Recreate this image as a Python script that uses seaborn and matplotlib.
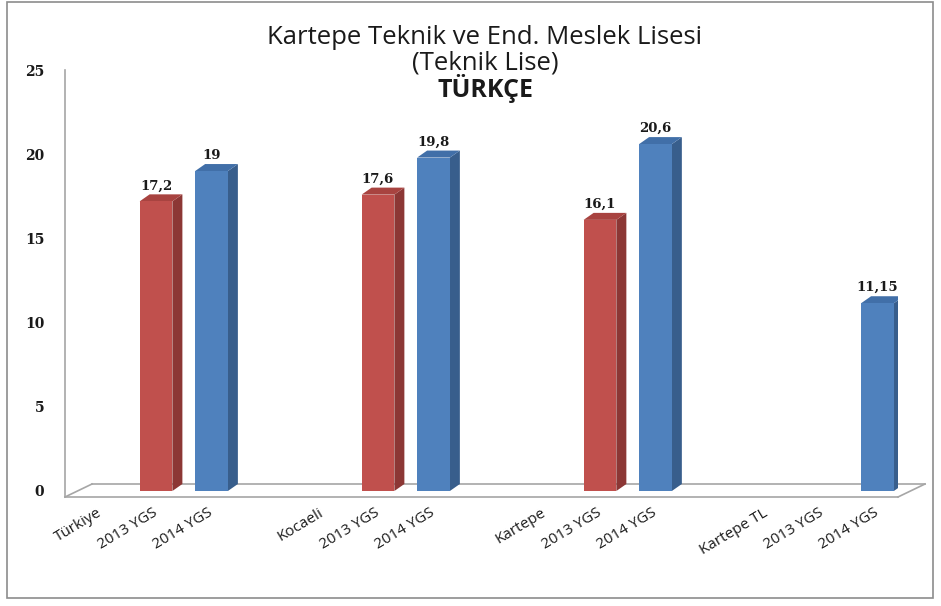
import numpy as np
import pandas as pd
import matplotlib
matplotlib.use("Agg")
import matplotlib.pyplot as plt
import seaborn as sns
from matplotlib.patches import Polygon, Rectangle
from matplotlib.lines import Line2D

# chart data
groups = ["Türkiye", "Kocaeli", "Kartepe", "Kartepe TL"]
years = ["2013 YGS", "2014 YGS"]
scores_2013 = [17.2, 17.6, 16.1, np.nan]
scores_2014 = [19.0, 19.8, 20.6, 11.15]

title_lines = ["Kartepe Teknik ve End. Meslek Lisesi", "(Teknik Lise)", "TÜRKÇE"]
y_ticks = [0, 5, 10, 15, 20, 25]

front_colors = {"2013 YGS": "#C0504D", "2014 YGS": "#4F81BD"}
side_colors = {"2013 YGS": "#8C3735", "2014 YGS": "#385E8C"}
top_colors = {"2013 YGS": "#A84340", "2014 YGS": "#416FA8"}

# category order: group name, 2013, 2014, then an empty gap slot
order = []
tick_labels = []
for i, g in enumerate(groups):
    order += [g, g + "|" + years[0], g + "|" + years[1]]
    tick_labels += [g, years[0], years[1]]
    if i < len(groups) - 1:
        order.append("gap%d" % i)
        tick_labels.append("")

rows = []
for g, v13, v14 in zip(groups, scores_2013, scores_2014):
    rows.append({"slot": g + "|" + years[0], "year": years[0], "score": v13})
    rows.append({"slot": g + "|" + years[1], "year": years[1], "score": v14})
df = pd.DataFrame(rows).dropna()

W, H = 941, 606
fig = plt.figure(figsize=(W / 100, H / 100), dpi=100)
fig.patch.set_facecolor("white")


def px(x, y):
    return x / W, 1 - y / H


ax_left, ax_right, ax_top, ax_bottom = 65, 898, 70, 491
ax = fig.add_axes([ax_left / W, 1 - ax_bottom / H, (ax_right - ax_left) / W, (ax_bottom - ax_top) / H])
ax.set_facecolor("none")

sns.barplot(data=df, x="slot", y="score", hue="year", order=order,
            palette=front_colors, dodge=False, width=0.59, saturation=1,
            legend=False, ax=ax, zorder=3, edgecolor="none")

ax.set_ylim(0, 25)
ax.set_xlim(-0.64, 14.37)

# fake 3d depth on each bar
depth_x = 10 / ((ax_right - ax_left) / (14.37 + 0.64))
depth_y = 7 / ((ax_bottom - ax_top) / 25)
for cont, yr in zip(ax.containers, years):
    for bar in cont:
        h = bar.get_height()
        if not np.isfinite(h) or h == 0:
            continue
        x0 = bar.get_x()
        x1 = x0 + bar.get_width()
        side = Polygon([(x1, 0), (x1 + depth_x, depth_y), (x1 + depth_x, h + depth_y), (x1, h)],
                       closed=True, facecolor=side_colors[yr], edgecolor="none", zorder=2.9)
        top = Polygon([(x0, h), (x1, h), (x1 + depth_x, h + depth_y), (x0 + depth_x, h + depth_y)],
                      closed=True, facecolor=top_colors[yr], edgecolor="none", zorder=2.9)
        ax.add_patch(side)
        ax.add_patch(top)
    ax.bar_label(cont, fmt=lambda v: ("%g" % v).replace(".", ","), padding=6.5,
                 fontsize=9.5, fontweight="bold", family="DejaVu Serif", color="#1a1a1a")

for s in ax.spines.values():
    s.set_visible(False)
ax.set_xlabel("")
ax.set_ylabel("")
ax.set_yticks(y_ticks)
ax.set_yticklabels([str(t) for t in y_ticks], fontsize=10, fontweight="bold",
                   family="DejaVu Serif", color="#1a1a1a")
ax.tick_params(axis="y", length=0, pad=15)
ax.set_xticks(range(len(order)))
ax.set_xticklabels(tick_labels, rotation=31, ha="right", rotation_mode="anchor",
                   fontsize=11, family="Open Sans", color="#1a1a1a")
ax.tick_params(axis="x", length=0, pad=15)
for lab in ax.get_xticklabels():
    lab.set_va("center")

# floor and axis wall lines
gray = "#A6A6A6"
floor = [[(65, 497), (898, 497)], [(92, 484), (925, 484)], [(65, 497), (92, 484)],
         [(898, 497), (925, 484)], [(65, 70), (65, 497)]]
for (a, b) in floor:
    p0, p1 = px(*a), px(*b)
    ax.add_line(Line2D([p0[0], p1[0]], [p0[1], p1[1]], color=gray, lw=1.2,
                       transform=fig.transFigure, clip_on=False, zorder=1))

# outer border
fig.add_artist(Rectangle(px(7, 598), 926 / W, 596 / H, transform=fig.transFigure,
                         fill=False, edgecolor="#8c8c8c", lw=1.2))

# titles
fig.text(*px(485, 37), title_lines[0], ha="center", va="center", fontsize=18.5, family="Open Sans", color="#1a1a1a")
fig.text(*px(485, 63), title_lines[1], ha="center", va="center", fontsize=18.5, family="Open Sans", color="#1a1a1a")
fig.text(*px(485, 88), title_lines[2], ha="center", va="center", fontsize=18, fontweight="bold",
         family="Open Sans", color="#1a1a1a")

fig.savefig("out.png", dpi=100, facecolor="white")
